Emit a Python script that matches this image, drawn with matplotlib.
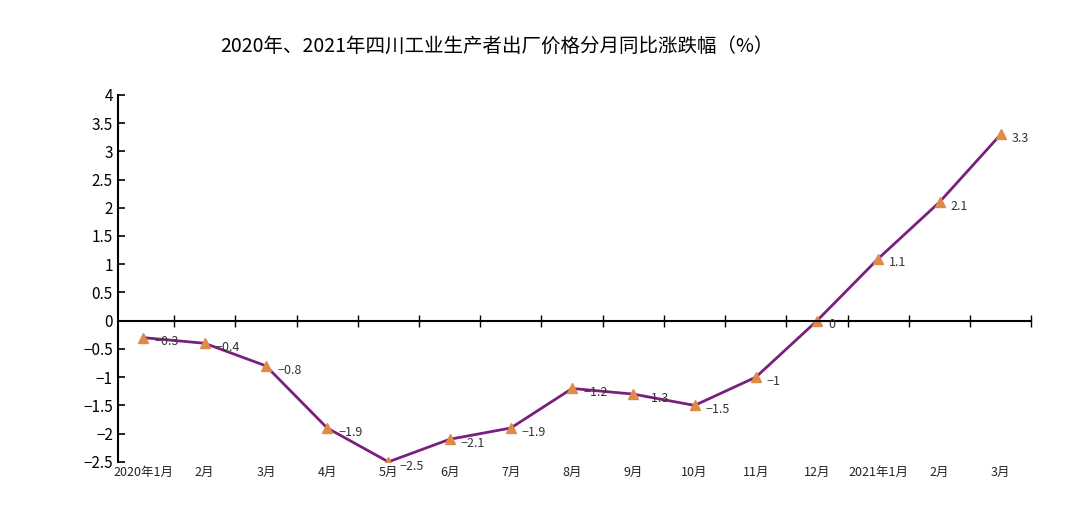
import matplotlib.pyplot as plt

plt.rcParams['font.family'] = ['Noto Sans CJK SC', 'DejaVu Sans']

months = ['2020年1月', '2月', '3月', '4月', '5月', '6月', '7月', '8月', '9月',
          '10月', '11月', '12月', '2021年1月', '2月', '3月']
values = [-0.3, -0.4, -0.8, -1.9, -2.5, -2.1, -1.9, -1.2, -1.3, -1.5, -1, 0, 1.1, 2.1, 3.3]
labels = ['-0.3', '-0.4', '-0.8', '-1.9', '-2.5', '-2.1', '-1.9', '-1.2', '-1.3',
          '-1.5', '-1', '0', '1.1', '2.1', '3.3']

fig = plt.figure(figsize=(10.8, 5.07), dpi=100)
ax = fig.add_axes([0.109, 0.089, 0.846, 0.724])
x = list(range(len(months)))
ax.plot(x, values, color='#7b1f7e', linewidth=2, marker='^', markersize=7,
        markerfacecolor='#e08a4a', markeredgecolor='#e08a4a')
for xi, v, t in zip(x, values, labels):
    ax.annotate(t.replace('-', '−'), (xi, v), xytext=(8, -3), textcoords='offset points',
                fontsize=9, color='#333333', va='center')

ax.set_xlim(-0.42, 14.5)
ax.set_ylim(-2.5, 4)
ax.set_yticks([-2.5, -2, -1.5, -1, -0.5, 0, 0.5, 1, 1.5, 2, 2.5, 3, 3.5, 4])
ax.set_yticklabels(['−2.5', '−2', '−1.5', '−1', '−0.5', '0', '0.5', '1', '1.5', '2',
                    '2.5', '3', '3.5', '4'], fontsize=11)
for s in ['top', 'right']:
    ax.spines[s].set_visible(False)
ax.spines['bottom'].set_position(('data', 0))
ax.spines['bottom'].set_linewidth(1.5)
ax.spines['left'].set_linewidth(1.5)
ax.tick_params(axis='y', direction='in', length=5, width=1.2)
ax.set_xticks([i + 0.5 for i in x])
ax.set_xticklabels([])
ax.tick_params(axis='x', direction='inout', length=8, width=1)
for xi, m in zip(x, months):
    ax.text(xi, -2.57, m, ha='center', va='top', fontsize=9, style='italic', color='#222222')

fig.suptitle('2020年、2021年四川工业生产者出厂价格分月同比涨跌幅（%）', x=0.46, y=0.93, fontsize=14)
fig.savefig('out.png', dpi=100)
